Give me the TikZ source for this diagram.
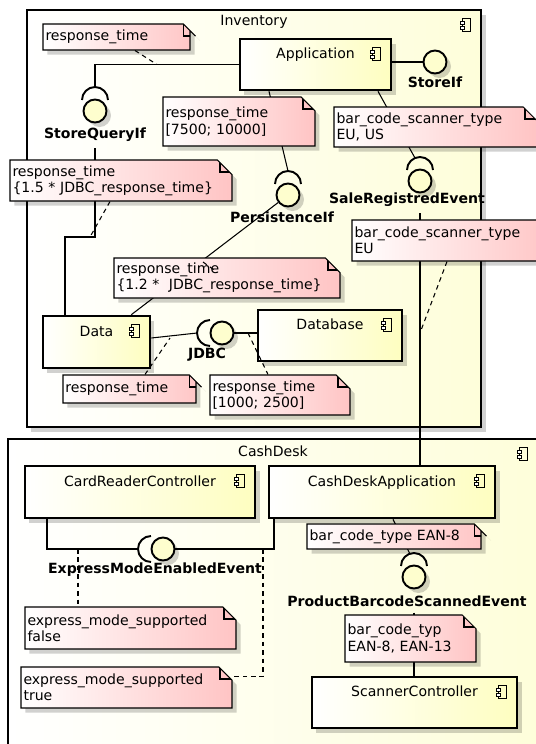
\documentclass[tikz,border=0pt]{standalone}
\usepackage{fontspec}
\setmainfont{DejaVu Sans}
\usetikzlibrary{shapes.misc,shadows,positioning}
\definecolor{pkgyellow}{HTML}{FEFEDA}
\definecolor{compyellow}{HTML}{FEFEC0}
\definecolor{ballyellow}{HTML}{FEFECE}
\definecolor{notepink}{HTML}{FFC4C4}
\tikzset{
  compicon/.pic={
    \draw[line width=0.5pt] (-0.06,-0.13) rectangle (0.1,0.13);
    \draw[line width=0.5pt, fill=white] (-0.1,0.02) rectangle (-0.02,0.08);
    \draw[line width=0.5pt, fill=white] (-0.1,-0.08) rectangle (-0.02,-0.02);
  },
  iconed/.style={path picture={\pic at ([shift={(-0.32,-0.30)}]path picture bounding box.north east) {compicon};}},
  dshadow/.style={drop shadow={shadow xshift=0.09cm, shadow yshift=-0.09cm, fill=black, opacity=0.18}},
  pkg/.style={draw, line width=1.5pt, left color=white, right color=pkgyellow, dshadow, iconed},
  comp/.style={draw, line width=1.5pt, left color=white, right color=compyellow, dshadow, iconed,
               text height=0.2cm, text depth=0.44cm},
  % note: minimum width governs, text pulled to the left edge
  notebox/.style={chamfered rectangle, chamfered rectangle corners=north east,
               chamfered rectangle xsep=0.24cm, chamfered rectangle ysep=0.24cm,
               draw, line width=0.6pt, left color=white, right color=notepink, dshadow,
               minimum width=#1, text width=#1-1cm, inner xsep=0.05cm, inner ysep=-0.25cm, align=left,
               execute at begin node={\leftskip=-0.45cm\rightskip=-3cm plus 1fil},
               path picture={\draw[line width=0.6pt] (path picture bounding box.north east) ++(-0.24,0) |- ++(0.24,-0.24);}},
  ball/.style={circle, draw, line width=1.1pt, fill=ballyellow, minimum size=0.46cm, inner sep=0pt, dshadow},
  sock/.style={line width=1.1pt},
  iflab/.style={font=\fontsize{8}{9.2}\selectfont\bfseries},
  conn/.style={line width=0.6pt},
  dashconn/.style={line width=0.6pt, dash pattern=on 2.6pt off 2.2pt},
}
\begin{document}
\begin{tikzpicture}[font=\fontsize{8}{9.2}\selectfont]
  \path[use as bounding box, fill=white] (0,0) rectangle (10.72,-14.88);
  % packages
  \node[pkg, minimum width=9.08cm, minimum height=8.34cm] (inv) at (5.08,-4.37) {};
  \node (invlab) at ([yshift=-0.26cm]inv.north) {Inventory};
  \node[pkg, minimum width=10.60cm, minimum height=6.42cm] (cd) at (5.46,-11.99) {};
  \node (cdlab) at ([yshift=-0.28cm]cd.north) {CashDesk};
  % components
  \node[comp, minimum width=3.02cm, minimum height=1.02cm] (app) at (6.31,-1.29) {Application};
  \node[comp, minimum width=2.14cm, minimum height=1.04cm] (data) at (1.93,-6.84) {Data};
  \node[comp, minimum width=2.88cm, minimum height=1.02cm] (db) at (6.60,-6.71) {Database};
  \node[comp, minimum width=4.60cm, minimum height=1.04cm] (crc) at (2.80,-9.84) {CardReaderController};
  \node[comp, minimum width=4.52cm, minimum height=1.04cm] (cda) at (7.64,-9.84) {CashDeskApplication};
  \node[comp, minimum width=4.10cm, minimum height=1.02cm] (sc) at (8.29,-14.05) {ScannerController};
  % interfaces
  \node[ball] (storeif) at (8.70,-1.24) {};
  \node[iflab] (storeiflab) at (8.70,-1.64) {StoreIf};
  \node[ball] (sqif) at (1.90,-2.22) {};
  \node[iflab] (sqiflab) at (1.90,-2.70) {StoreQueryIf};
  \node[ball] (pif) at (5.76,-3.90) {};
  \node[iflab] (piflab) at (5.64,-4.34) {PersistenceIf};
  \node[ball] (sre) at (8.40,-3.62) {};
  \node[iflab] (srelab) at (8.14,-4.00) {SaleRegistredEvent};
  \node[ball] (jdbc) at (4.44,-6.66) {};
  \node[iflab] (jdbclab) at (4.14,-7.10) {JDBC};
  \node[ball] (eme) at (3.26,-10.98) {};
  \node[iflab] (emelab) at (3.10,-11.40) {ExpressModeEnabledEvent};
  \node[ball] (pbse) at (8.28,-11.54) {};
  \node[iflab] (pbselab) at (8.14,-12.02) {ProductBarcodeScannedEvent};
  % sockets
  \draw[sock] ([shift={(0.26,0.22)}]sqif.center) arc (0:180:0.26);
  \draw[sock] ([shift={(0.26,0.22)}]pif.center) arc (0:180:0.26);
  \draw[sock] ([shift={(0.26,0.22)}]sre.center) arc (0:180:0.26);
  \draw[sock] ([shift={(0.26,0.22)}]pbse.center) arc (0:180:0.26);
  \draw[sock] ([shift={(-0.24,0.26)}]jdbc.center) arc (90:270:0.26);
  \draw[sock] ([shift={(-0.24,0.26)}]eme.center) arc (90:270:0.26);
  % connectors
  \coordinate (sqbend) at (1.30,-4.74);
  \draw[conn] (app.east |- storeif) -- (storeif.west);
  \draw[conn] ([yshift=0.48cm]sqif.center) |- (app.west);
  \draw[conn] (sqiflab.south) |- (sqbend) -- (sqbend |- data.north);
  \draw[conn] ([xshift=-0.93cm]app.south) -- ([yshift=0.48cm]pif.center);
  \draw[conn] (pif) -- ([xshift=-0.40cm]data.north east);
  \draw[conn] ([xshift=1.25cm]app.south) -- ([shift={(-0.1,0.46)}]sre.center);
  \draw[conn] (sre |- srelab.south) -- (sre |- cda.north);
  \draw[conn] ([yshift=0.08cm]data.east) -- ([xshift=-0.5cm]jdbc.center);
  \draw[conn] (jdbc.east) -- (db.west |- jdbc);
  \draw[conn] ([xshift=-1.86cm]crc.south) |- ([xshift=-0.5cm]eme.center);
  \draw[conn] (eme.east) -| ([xshift=-2.16cm]cda.south);
  \draw[conn] ([xshift=0.22cm]cda.south) -- ([shift={(-0.08,0.46)}]pbse.center);
  \draw[conn] (pbse |- pbselab.south) -- (pbse |- sc.north);
  % notes
  \node[notebox=2.94cm, minimum height=0.52cm] (rtnote) at (2.33,-0.74) {response\_time};
  \node[notebox=4.44cm, minimum height=0.82cm] (q15note) at (2.42,-3.61) {response\_time\\\{1.5 * JDBC\_response\_time\}};
  \node[notebox=3.04cm, minimum height=0.98cm] (q75note) at (4.78,-2.43) {response\_time\\{}[7500; 10000]};
  \node[notebox=4.06cm, minimum height=0.80cm] (eusnote) at (8.71,-2.54) {bar\_code\_scanner\_type\\EU, US};
  \node[notebox=4.06cm, minimum height=0.82cm] (eunote) at (9.07,-4.81) {bar\_code\_scanner\_type\\EU};
  \node[notebox=4.52cm, minimum height=0.80cm] (q12note) at (4.54,-5.56) {response\_time\\\{1.2 *\ \ JDBC\_response\_time\}};
  \node[notebox=2.66cm, minimum height=0.56cm] (rtjnote) at (2.59,-7.78) {response\_time};
  \node[notebox=2.80cm, minimum height=0.80cm] (q25note) at (5.60,-7.90) {response\_time\\{}[1000; 2500]};
  \node[notebox=4.22cm, minimum height=0.84cm] (falsenote) at (2.61,-12.56) {express\_mode\_supported\\false};
  \node[notebox=4.22cm, minimum height=0.82cm] (truenote) at (2.53,-13.75) {express\_mode\_supported\\true};
  \node[notebox=3.48cm, minimum height=0.50cm] (ean8note) at (7.88,-10.73) {bar\_code\_type EAN-8};
  \node[notebox=2.62cm, minimum height=0.94cm] (ean13note) at (8.21,-12.77) {bar\_code\_typ\\EAN-8, EAN-13};
  % note links
  \coordinate (apphit) at (3.14,-1.29);
  \coordinate (sqhit) at (1.80,-4.74);
  \coordinate (pifhit) at (4.06,-5.24);
  \coordinate (q12tip) at (4.34,-5.44);
  \coordinate (djhit) at (3.40,-6.76);
  \coordinate (jdhit) at (4.96,-6.66);
  \coordinate (euhit) at (8.40,-6.66);
  \coordinate (emeleft) at (1.56,-10.98);
  \coordinate (emeright) at (5.26,-10.98);
  \draw[dashconn] ([xshift=0.37cm]rtnote.south) -- (apphit);
  \draw[dashconn] ([xshift=-0.22cm]q15note.south) -- (sqhit);
  \draw[dashconn] (pifhit) -- (q12tip);
  \draw[dashconn] ([xshift=0.31cm]rtjnote.north) -- (djhit);
  \draw[dashconn] (jdhit) -- ([xshift=-0.24cm]q25note.north);
  \draw[dashconn] ([xshift=-0.13cm]eunote.south) -- (euhit);
  \draw[dashconn] (emeleft) -- (emeleft |- falsenote.north);
  \draw[dashconn] (emeright) |- ([yshift=-0.2cm]truenote.east |- truenote.north);
\end{tikzpicture}
\end{document}
